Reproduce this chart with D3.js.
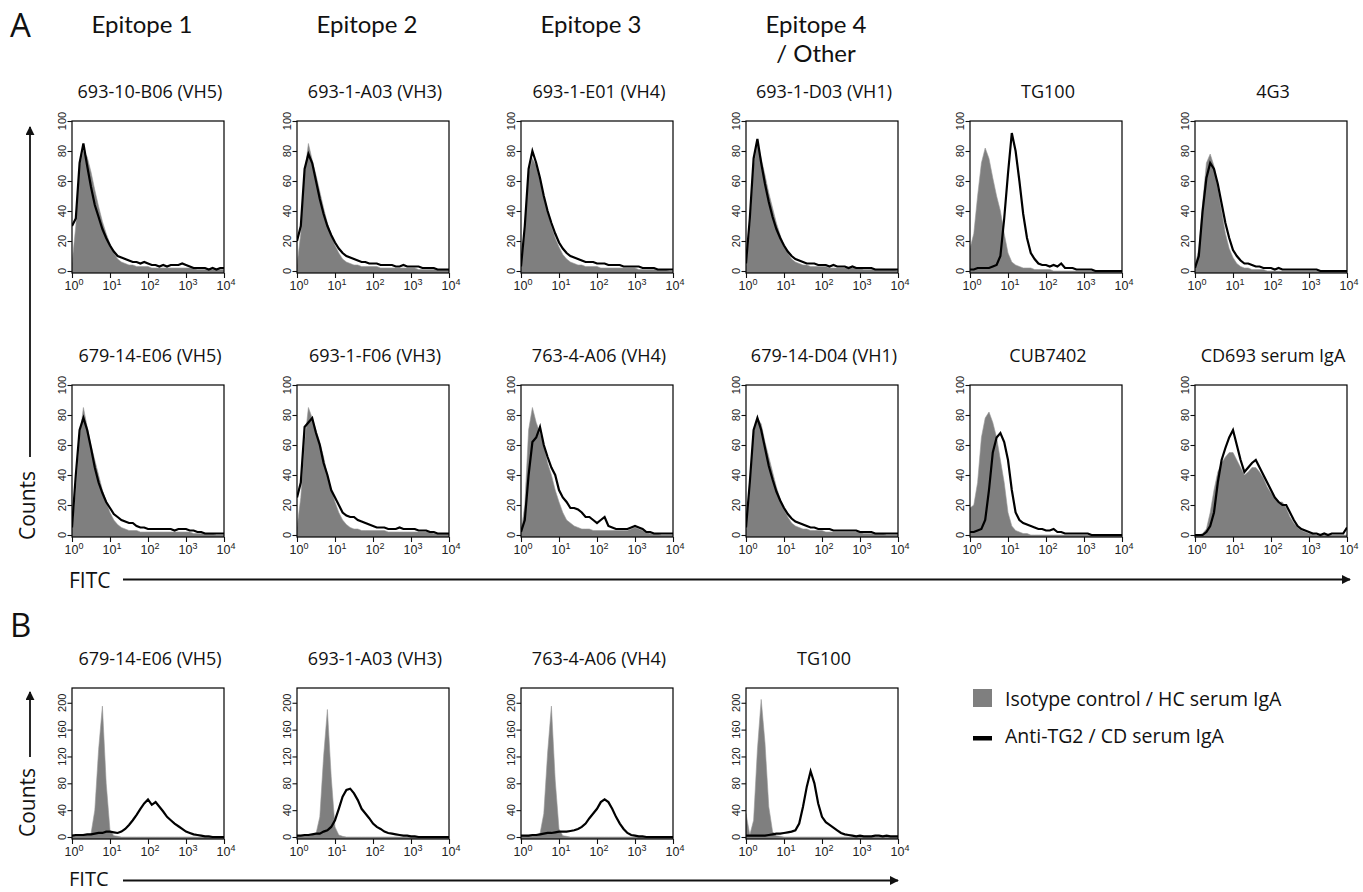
<!DOCTYPE html>
<html><head><meta charset="utf-8">
<script src="https://cdn.jsdelivr.net/npm/d3@7"></script>
<style>body{margin:0;background:#fff}svg{display:block}</style>
</head><body>
<svg id="c" width="1363" height="892"></svg>
<script>
// Bin positions (log10 of FITC intensity)
const bins = [0,0.1,0.2,0.3,0.4,0.5,0.6,0.7,0.8,0.9,1.0,1.1,1.2,1.3,1.4,1.5,1.6,1.7,1.8,1.9,2.0,2.1,2.2,2.3,2.4,2.5,2.6,2.7,2.8,2.9,3.0,3.1,3.2,3.3,3.4,3.5,3.6,3.7,3.8,3.9,4.0];
const xMajor = [1,10,100,1000,10000];
const xExp = ["0","1","2","3","4"];
const yMajorA = [0,20,40,60,80,100];
const yMajorB = [0,40,80,120,160,200];

const headers = ["Epitope 1","Epitope 2","Epitope 3","Epitope 4"];
const headerExtra = "/ Other";
const titlesA1 = ["693-10-B06 (VH5)","693-1-A03 (VH3)","693-1-E01 (VH4)","693-1-D03 (VH1)","TG100","4G3"];
const titlesA2 = ["679-14-E06 (VH5)","693-1-F06 (VH3)","763-4-A06 (VH4)","679-14-D04 (VH1)","CUB7402","CD693 serum IgA"];
const titlesB = ["679-14-E06 (VH5)","693-1-A03 (VH3)","763-4-A06 (VH4)","TG100"];
const legendLabels = ["Isotype control / HC serum IgA","Anti-TG2 / CD serum IgA"];

// Panel A, row 1
const a1Ctrl = [5,30,70,80,76,66,54,43,33,25,18,12,8,6,5,4,4,3,3,3,3,2,2,2,2,2,2,2,2,2,2,2,2,1,1,1,1,1,1,1,1];
const a1Anti = [30,35,72,85,70,56,44,36,28,22,17,13,10,9,8,7,6,6,5,6,5,4,4,3,4,3,4,4,4,5,4,3,2,2,2,2,1,2,1,2,2];
const a2Ctrl = [4,25,65,85,74,64,53,42,32,24,17,12,8,6,5,4,4,3,3,3,3,3,2,2,2,2,2,2,2,2,2,2,1,1,1,1,1,1,1,1,1];
const a2Anti = [20,30,68,78,72,60,48,38,30,24,19,15,12,10,9,8,7,6,6,5,5,5,4,4,4,4,3,3,4,3,3,3,3,2,2,2,2,1,1,1,1];
const a3Ctrl = [3,25,65,75,70,60,50,40,30,22,16,11,8,6,5,4,4,3,3,3,3,2,2,2,2,2,2,2,2,2,2,1,1,1,1,1,1,1,1,0,0];
const a3Anti = [3,30,68,80,72,62,50,40,32,25,19,15,12,10,9,8,7,6,6,6,5,5,5,4,4,4,4,3,3,3,3,3,2,2,2,2,1,1,1,1,1];
const a4Ctrl = [3,28,70,85,75,64,52,42,32,24,17,12,8,6,5,4,4,3,3,3,3,3,2,2,2,2,2,2,2,2,2,1,1,1,1,1,1,1,1,1,0];
const a4Anti = [5,35,75,88,72,58,46,36,28,22,17,13,10,8,7,6,5,5,5,4,4,4,3,4,3,3,3,2,3,2,2,2,2,2,1,1,1,1,1,1,1];
const a5Ctrl = [15,25,50,72,82,75,62,50,40,25,12,6,4,3,2,2,2,1,1,1,1,1,0,0,0,0,0,0,0,0,0,0,0,0,0,0,0,0,0,0,0];
const a5Anti = [1,1,2,2,2,2,3,4,10,35,65,92,80,60,38,22,12,8,5,4,4,3,4,3,5,2,2,2,1,1,1,1,1,0,0,0,0,0,0,0,0];
const a6Ctrl = [3,15,45,72,78,70,55,40,25,15,9,5,3,2,2,1,1,1,1,0,0,0,0,0,0,0,0,0,0,0,0,0,0,0,0,0,0,0,0,0,0];
const a6Anti = [2,10,40,62,72,68,58,45,32,22,14,10,7,5,5,4,3,3,2,2,2,1,2,1,1,1,1,1,1,1,1,1,1,0,0,0,0,0,0,0,0];
// Panel A, row 2
const b1Ctrl = [3,30,65,85,72,60,50,40,30,22,15,10,7,5,4,3,3,3,2,2,2,2,2,2,2,2,2,2,2,2,2,2,1,1,1,1,1,1,0,0,0];
const b1Anti = [5,40,70,78,70,58,45,35,28,22,18,14,12,10,9,8,8,6,5,5,4,4,4,4,4,4,4,3,4,4,4,3,3,2,2,1,1,1,1,1,1];
const b2Ctrl = [5,25,62,85,78,70,62,52,40,30,22,15,10,7,5,4,4,3,3,3,3,3,3,3,2,2,2,2,2,2,2,2,2,2,2,2,1,1,1,1,1];
const b2Anti = [25,35,72,75,78,68,60,48,40,30,25,20,15,13,12,12,10,9,8,7,6,5,5,5,4,4,4,5,4,4,4,4,3,3,3,2,2,1,1,1,1];
const b3Ctrl = [2,20,70,85,75,68,60,48,40,30,22,15,10,8,6,5,4,4,4,3,3,3,3,3,3,3,3,3,3,4,5,4,3,2,1,1,1,0,0,0,0];
const b3Anti = [2,10,40,62,65,72,60,52,45,40,30,25,22,18,18,17,15,12,12,10,8,10,12,6,5,4,4,4,4,5,6,5,4,2,2,1,1,1,1,1,1];
const b4Ctrl = [3,30,68,78,74,62,52,42,32,24,17,12,8,6,5,4,4,3,3,3,3,2,2,2,2,2,2,2,2,2,2,1,1,1,1,1,1,0,0,0,0];
const b4Anti = [5,35,70,78,70,58,46,37,29,23,18,14,11,9,8,7,6,5,5,4,4,4,4,3,3,3,3,3,3,3,2,2,2,2,1,1,1,1,1,1,1];
const b5Ctrl = [18,20,35,65,78,82,75,65,50,35,15,6,3,2,1,1,0,0,0,0,0,0,0,0,0,0,0,0,0,0,0,0,0,0,0,0,0,0,0,0,0];
const b5Anti = [2,2,3,4,10,30,55,65,68,62,50,30,15,10,8,7,6,5,4,4,3,3,4,2,2,1,1,1,1,1,1,1,0,0,0,0,0,0,0,0,0];
const b6Ctrl = [0,0,1,4,15,30,42,48,52,55,55,50,45,40,42,45,45,42,38,32,28,25,22,22,18,12,8,5,3,2,1,1,0,0,0,0,0,0,0,0,0];
const b6Anti = [0,0,0,2,6,15,35,50,58,65,70,60,50,42,45,48,50,45,40,35,30,25,22,20,20,15,10,6,4,3,2,1,1,0,1,0,1,1,1,1,5];
// Panel B
const c1Ctrl = [2,3,3,4,4,5,40,130,195,80,10,2,1,0,0,0,0,0,0,0,0,0,0,0,0,0,0,0,0,0,0,0,0,0,0,0,0,0,0,0,0];
const c1Anti = [2,3,3,3,4,4,5,6,6,8,8,7,6,8,12,18,25,33,42,50,56,48,52,45,38,30,25,20,16,12,8,6,4,3,2,1,1,0,0,0,0];
const c2Ctrl = [1,1,2,2,3,5,30,120,190,90,15,3,1,0,0,0,0,0,0,0,0,0,0,0,0,0,0,0,0,0,0,0,0,0,0,0,0,0,0,0,0];
const c2Anti = [2,2,3,3,4,5,5,8,10,15,25,42,60,70,72,65,55,42,35,28,20,15,12,8,6,5,4,3,2,2,1,1,0,0,0,0,0,0,0,0,0];
const c3Ctrl = [1,1,2,2,3,5,35,125,195,85,12,2,1,0,0,0,0,0,0,0,0,0,0,0,0,0,0,0,0,0,0,0,0,0,0,0,0,0,0,0,0];
const c3Anti = [2,2,2,3,3,4,5,6,6,7,8,8,8,9,10,12,15,20,28,35,42,52,56,52,42,30,20,12,6,3,2,1,1,0,0,0,0,0,0,0,0];
const c4Ctrl = [35,3,25,130,205,140,45,8,2,1,0,0,0,0,0,0,0,0,0,0,0,0,0,0,0,0,0,0,0,0,0,0,0,0,0,0,0,0,0,0,0];
const c4Anti = [2,2,2,2,2,2,3,4,5,5,6,7,8,10,20,45,75,98,80,50,30,22,18,14,10,6,4,3,2,1,2,1,1,1,2,2,1,2,1,1,1];

const rowA1 = [[a1Ctrl,a1Anti],[a2Ctrl,a2Anti],[a3Ctrl,a3Anti],[a4Ctrl,a4Anti],[a5Ctrl,a5Anti],[a6Ctrl,a6Anti]];
const rowA2 = [[b1Ctrl,b1Anti],[b2Ctrl,b2Anti],[b3Ctrl,b3Anti],[b4Ctrl,b4Anti],[b5Ctrl,b5Anti],[b6Ctrl,b6Anti]];
const rowB = [[c1Ctrl,c1Anti],[c2Ctrl,c2Anti],[c3Ctrl,c3Anti],[c4Ctrl,c4Anti]];

// ---------- layout ----------
const svg = d3.select('#c');
const W = 152;
const colX = [72, 297, 521, 746, 970, 1195];
const GRAY = '#7f7f7f';
const TF = '"Open Sans", "Noto Sans", sans-serif';
const HF = 'Lato, "Open Sans", sans-serif';
const AF = '"Liberation Sans", Arial, sans-serif';
let clipId = 0;

function minorX() {
  const out = [];
  for (let e = 0; e < 4; e++) for (let m = 2; m <= 9; m++) out.push(m * Math.pow(10, e));
  return out;
}
function rangeStep(max, step) { const o=[]; for (let v=0; v<=max+1e-9; v+=step) o.push(v); return o; }

function panel(left, top, zero, ymax, yMajor, yMinorStep, title, ctrl, anti) {
  const x = d3.scaleLog().domain([1, 1e4]).range([left, left + W]);
  const y = d3.scaleLinear().domain([0, ymax]).range([zero, top]);
  const bottom = zero + 2;
  const g = svg.append('g');
  const id = 'clip' + (clipId++);
  g.append('clipPath').attr('id', id).append('rect')
    .attr('x', left).attr('y', top).attr('width', W).attr('height', bottom - top);
  const pts = a => bins.map((b, i) => ({x: Math.pow(10, b), v: a[i]}));
  const area = d3.area().x(d => x(d.x)).y0(bottom).y1(d => y(d.v)).curve(d3.curveLinear);
  const line = d3.line().x(d => x(d.x)).y(d => y(d.v)).curve(d3.curveLinear);
  const pg = g.append('g').attr('clip-path', `url(#${id})`);
  pg.append('path').datum(pts(ctrl)).attr('d', area).attr('fill', GRAY).attr('stroke', '#999').attr('stroke-width', 0.6);
  pg.append('path').datum(pts(anti)).attr('d', line).attr('fill', 'none').attr('stroke', '#000').attr('stroke-width', 2.2).attr('stroke-linejoin', 'miter');
  // frame
  g.append('rect').attr('x', left).attr('y', top).attr('width', W).attr('height', bottom - top)
    .attr('fill', 'none').attr('stroke', '#000').attr('stroke-width', 1.2);
  // y axis
  const yMinor = rangeStep(ymax, yMinorStep).filter(v => y(v) >= top);
  const ya = g.append('g').attr('transform', `translate(${left},0)`);
  ya.call(d3.axisLeft(y).tickValues(yMinor).tickSize(2.5).tickFormat(''));
  ya.call(d3.axisLeft(y).tickValues(yMajor).tickSize(4.5).tickFormat(''));
  ya.selectAll('.domain').remove();
  ya.selectAll('line').attr('stroke', '#111').attr('stroke-width', 1.1);
  g.selectAll(null).data(yMajor).enter().append('text')
    .attr('transform', d => `translate(${left - 6},${y(d)}) rotate(-90)`)
    .attr('text-anchor', 'middle').attr('font-family', AF).attr('font-size', 11).attr('fill', '#222')
    .text(d => d);
  // x axis
  const xa = g.append('g').attr('transform', `translate(0,${bottom})`);
  xa.call(d3.axisBottom(x).tickValues(minorX()).tickSize(3).tickFormat(''));
  xa.call(d3.axisBottom(x).tickValues(xMajor).tickSize(5).tickFormat(''));
  xa.selectAll('.domain').remove();
  xa.selectAll('line').attr('stroke', '#111').attr('stroke-width', 1.1);
  const lab = g.selectAll(null).data(xMajor).enter().append('text')
    .attr('x', d => x(d) + 2).attr('y', bottom + 17)
    .attr('text-anchor', 'middle').attr('font-family', AF).attr('font-size', 12.5).attr('fill', '#222');
  lab.append('tspan').text('10');
  lab.append('tspan').attr('dy', -5).attr('font-size', 9).text((d, i) => xExp[i]);
  // title
  svg.append('text').attr('x', left + W / 2 + 2).attr('y', top - 23)
    .attr('text-anchor', 'middle').attr('font-family', TF).attr('font-size', 18).attr('fill', '#111')
    .text(title);
}

rowA1.forEach((p, i) => panel(colX[i], 121, 271, 100, yMajorA, 4, titlesA1[i], p[0], p[1]));
rowA2.forEach((p, i) => panel(colX[i], 385, 535, 100, yMajorA, 4, titlesA2[i], p[0], p[1]));
rowB.forEach((p, i) => panel(colX[i], 688, 837, 222, yMajorB, 8, titlesB[i], p[0], p[1]));

// headers
headers.forEach((h, i) => {
  svg.append('text').attr('x', colX[i] + W / 2 - 6).attr('y', 33)
    .attr('text-anchor', 'middle').attr('font-family', HF).attr('font-size', 24).attr('fill', '#111').text(h);
});
svg.append('text').attr('x', colX[3] + W / 2 - 6).attr('y', 62)
  .attr('text-anchor', 'middle').attr('font-family', HF).attr('font-size', 24).attr('fill', '#111').text(headerExtra);

// panel letters
svg.append('text').attr('x', 10).attr('y', 37).attr('font-family', TF).attr('font-size', 33).attr('fill', '#111').text('A');
svg.append('text').attr('x', 10).attr('y', 637).attr('font-family', TF).attr('font-size', 33).attr('fill', '#111').text('B');

// arrows
const defs = svg.append('defs');
defs.append('marker').attr('id', 'ah').attr('viewBox', '0 0 10 10').attr('refX', 9).attr('refY', 5)
  .attr('markerWidth', 5).attr('markerHeight', 5).attr('markerUnits', 'strokeWidth').attr('orient', 'auto')
  .append('path').attr('d', 'M0,0 L10,5 L0,10 z').attr('fill', '#111');

function arrow(x1, y1, x2, y2) {
  svg.append('line').attr('x1', x1).attr('y1', y1).attr('x2', x2).attr('y2', y2)
    .attr('stroke', '#111').attr('stroke-width', 1.8).attr('marker-end', 'url(#ah)');
}
// A
arrow(30, 457, 30, 127);
svg.append('text').attr('transform', 'translate(35,540) rotate(-90)').attr('font-family', TF).attr('font-size', 21).attr('fill', '#111').text('Counts');
svg.append('text').attr('x', 69).attr('y', 588).attr('font-family', TF).attr('font-size', 21).attr('fill', '#111').text('FITC');
arrow(123, 579.5, 1350, 579.5);
// B
arrow(30, 757, 30, 692);
svg.append('text').attr('transform', 'translate(35,837) rotate(-90)').attr('font-family', TF).attr('font-size', 21).attr('fill', '#111').text('Counts');
svg.append('text').attr('x', 69).attr('y', 886).attr('font-family', TF).attr('font-size', 20).attr('fill', '#111').text('FITC');
arrow(123, 880.5, 898, 880.5);

// legend
svg.append('rect').attr('x', 973).attr('y', 689).attr('width', 19).attr('height', 18).attr('fill', GRAY);
svg.append('rect').attr('x', 973).attr('y', 736).attr('width', 19).attr('height', 4.5).attr('fill', '#000');
legendLabels.forEach((t, i) => {
  svg.append('text').attr('x', 1005).attr('y', 706 + i * 37).attr('font-family', TF).attr('font-size', 19.5).attr('fill', '#111').text(t);
});
</script>
</body></html>
